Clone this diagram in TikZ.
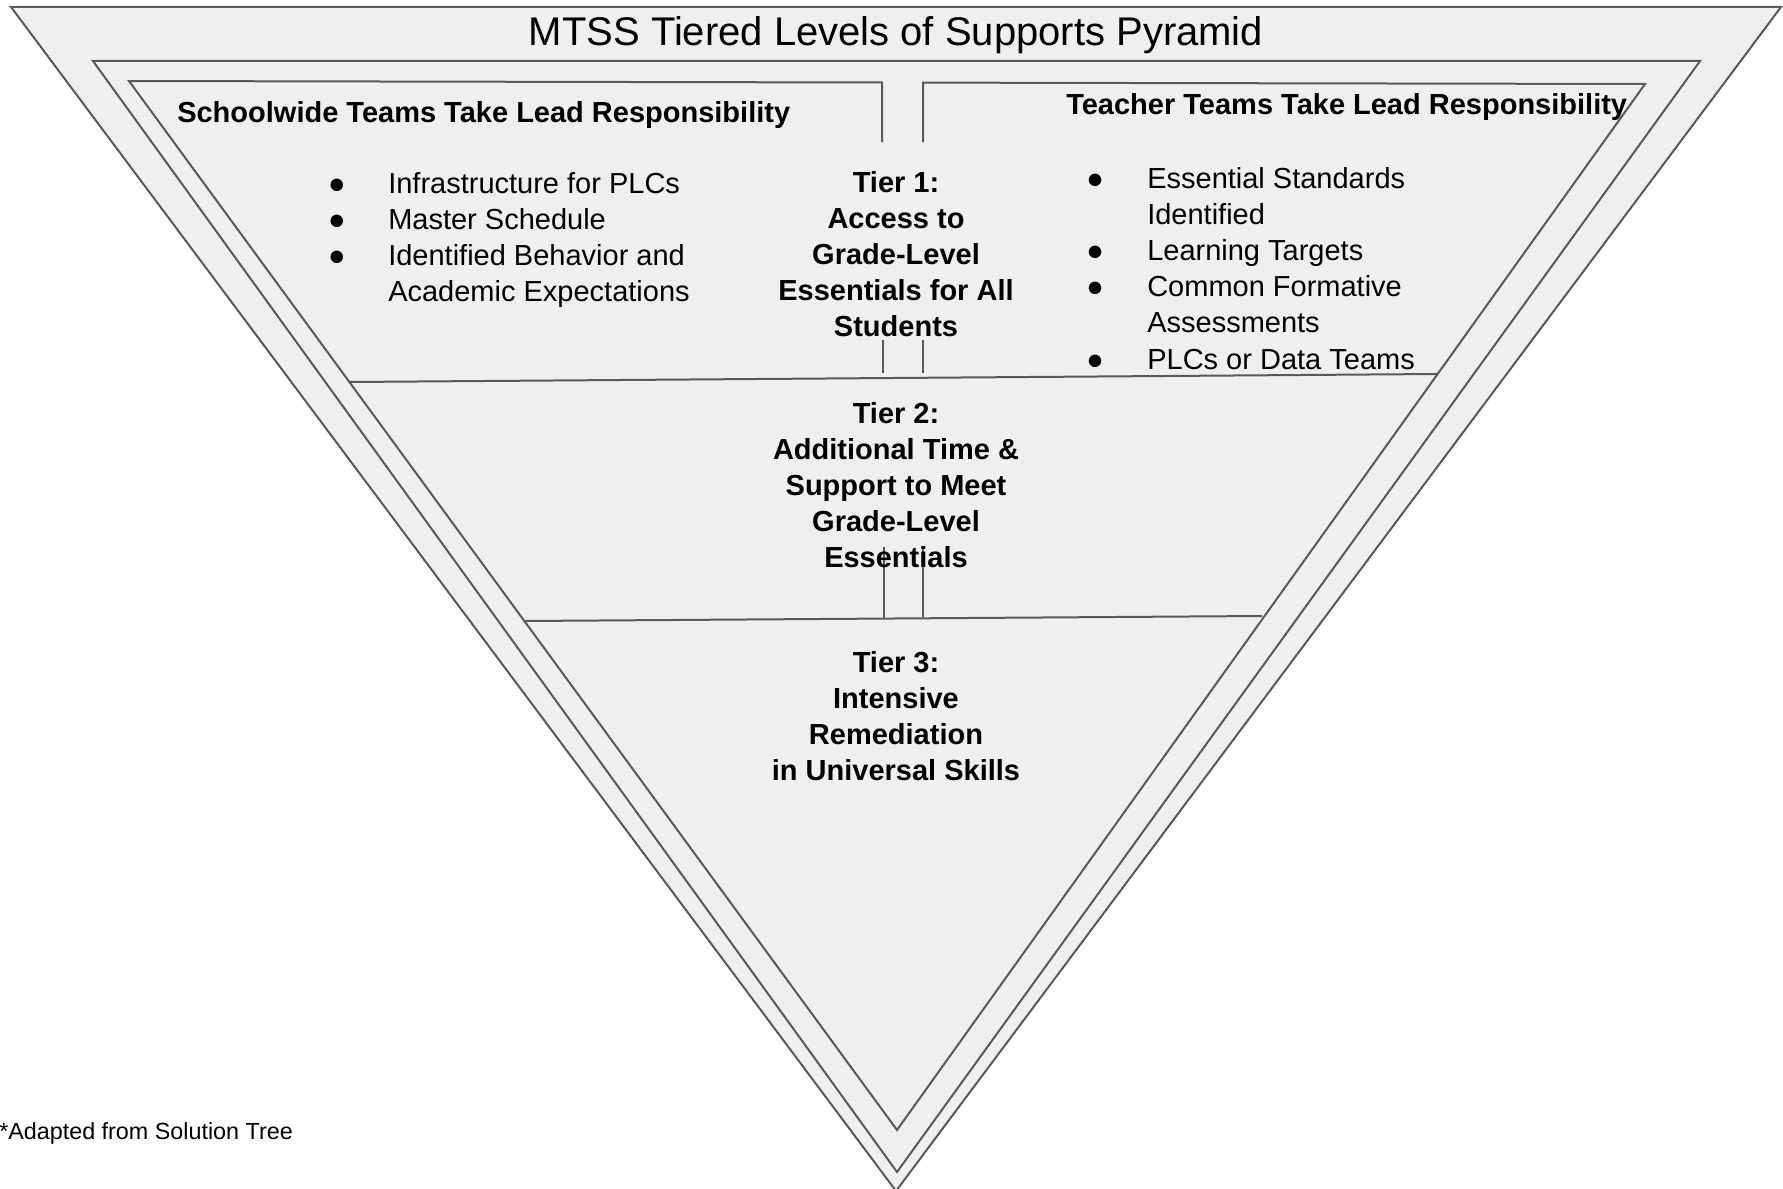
\documentclass[tikz,border=0pt]{standalone}
\usepackage{fontspec}
\setmainfont{Liberation Sans}
\definecolor{edgegray}{RGB}{89,89,89}
\definecolor{fillgray}{RGB}{239,239,239}
\tikzset{
  tri/.style={draw=edgegray, line width=1.5pt, fill=fillgray, line join=miter},
  rulel/.style={draw=edgegray, line width=1.5pt},
  plain/.style={inner sep=0pt, anchor=base, font=\fontsize{21.75}{27.15}\selectfont},
  plainw/.style={plain, anchor=base west},
  boldc/.style={inner sep=0pt, anchor=base, font=\fontsize{21.75}{27.15}\selectfont\bfseries},
  boldw/.style={boldc, anchor=base west},
}
\begin{document}
\begin{tikzpicture}[x=0.75pt,y=-0.75pt]
\useasboundingbox (0,0) rectangle (1783,1188);
% corners
\coordinate (oA) at (11,7);   \coordinate (oB) at (1781,7);   \coordinate (oC) at (896,1191);
\coordinate (mA) at (93,61);  \coordinate (mB) at (1700,61);  \coordinate (mC) at (897,1172);
\coordinate (iA) at (129,81); \coordinate (iB) at (1645,84);  \coordinate (iC) at (897,1130);
\coordinate (gL) at (882,82.5); \coordinate (gLb) at (882,142);
\coordinate (gR) at (923,82.6); \coordinate (gRb) at (923,142);
\coordinate (t1L) at (349,382); \coordinate (t1R) at (1437,374);
\coordinate (t2L) at (524,621); \coordinate (t2R) at (1262,616);
\coordinate (v1a) at (883,340); \coordinate (v1b) at (883,373);
\coordinate (v2a) at (923,340); \coordinate (v2b) at (923,373);
\coordinate (v3a) at (884,547); \coordinate (v3b) at (884,618);
\coordinate (v4a) at (923,547); \coordinate (v4b) at (923,617);

\path[tri] (oA) -- (oB) -- (oC) -- cycle;
\path[tri] (mA) -- (mB) -- (mC) -- cycle;
\fill[fillgray] (iA) -- (iB) -- (iC) -- cycle;
\draw[rulel, line join=miter] (gLb) -- (gL) -- (iA) -- (iC) -- (iB) -- (gR) -- (gRb);
\draw[rulel] (t1L) -- (t1R);
\draw[rulel] (t2L) -- (t2R);
\draw[rulel] (v1a) -- (v1b);
\draw[rulel] (v2a) -- (v2b);
\draw[rulel] (v3a) -- (v3b);
\draw[rulel] (v4a) -- (v4b);

% title
\node[inner sep=0pt, anchor=base, font=\fontsize{30}{36}\selectfont] (title) at (896,46) {MTSS Tiered Levels of Supports Pyramid};

% headers
\node[boldw] (hleft) at (177,122) {Schoolwide Teams Take Lead Responsibility};
\node[boldw] (hright) at (1066,114) {Teacher Teams Take Lead Responsibility};

% left list
\node[plain] (lb1) at (337,193) {●};
\node[plain] (lb2) at (337,229.2) {●};
\node[plain] (lb3) at (337,265.4) {●};
\node[plainw] (ltext) at (388,193) {\begin{tabular}[t]{@{}l@{}}Infrastructure for PLCs\\Master Schedule\\Identified Behavior and\\Academic Expectations\end{tabular}};

% right list
\node[plain] (rb1) at (1095,188) {●};
\node[plain] (rb2) at (1095,260.4) {●};
\node[plain] (rb3) at (1095,296.6) {●};
\node[plain] (rb4) at (1095,369) {●};
\node[plainw] (rtext) at (1147,188) {\begin{tabular}[t]{@{}l@{}}Essential Standards\\Identified\\Learning Targets\\Common Formative\\Assessments\\PLCs or Data Teams\end{tabular}};

% tiers
\node[boldc] (tier1) at (896,192) {\begin{tabular}[t]{@{}c@{}}Tier 1:\\Access to\\Grade-Level\\Essentials for All\\Students\end{tabular}};
\node[boldc] (tier2) at (896,423) {\begin{tabular}[t]{@{}c@{}}Tier 2:\\Additional Time \&\\Support to Meet\\Grade-Level\\Essentials\end{tabular}};
\node[boldc] (tier3) at (896,672) {\begin{tabular}[t]{@{}c@{}}Tier 3:\\Intensive\\Remediation\\in Universal Skills\end{tabular}};

% footnote
\node[inner sep=0pt, anchor=base west, font=\fontsize{17.5}{21}\selectfont] (foot) at (-1,1139) {*Adapted from Solution Tree};
\end{tikzpicture}
\end{document}
